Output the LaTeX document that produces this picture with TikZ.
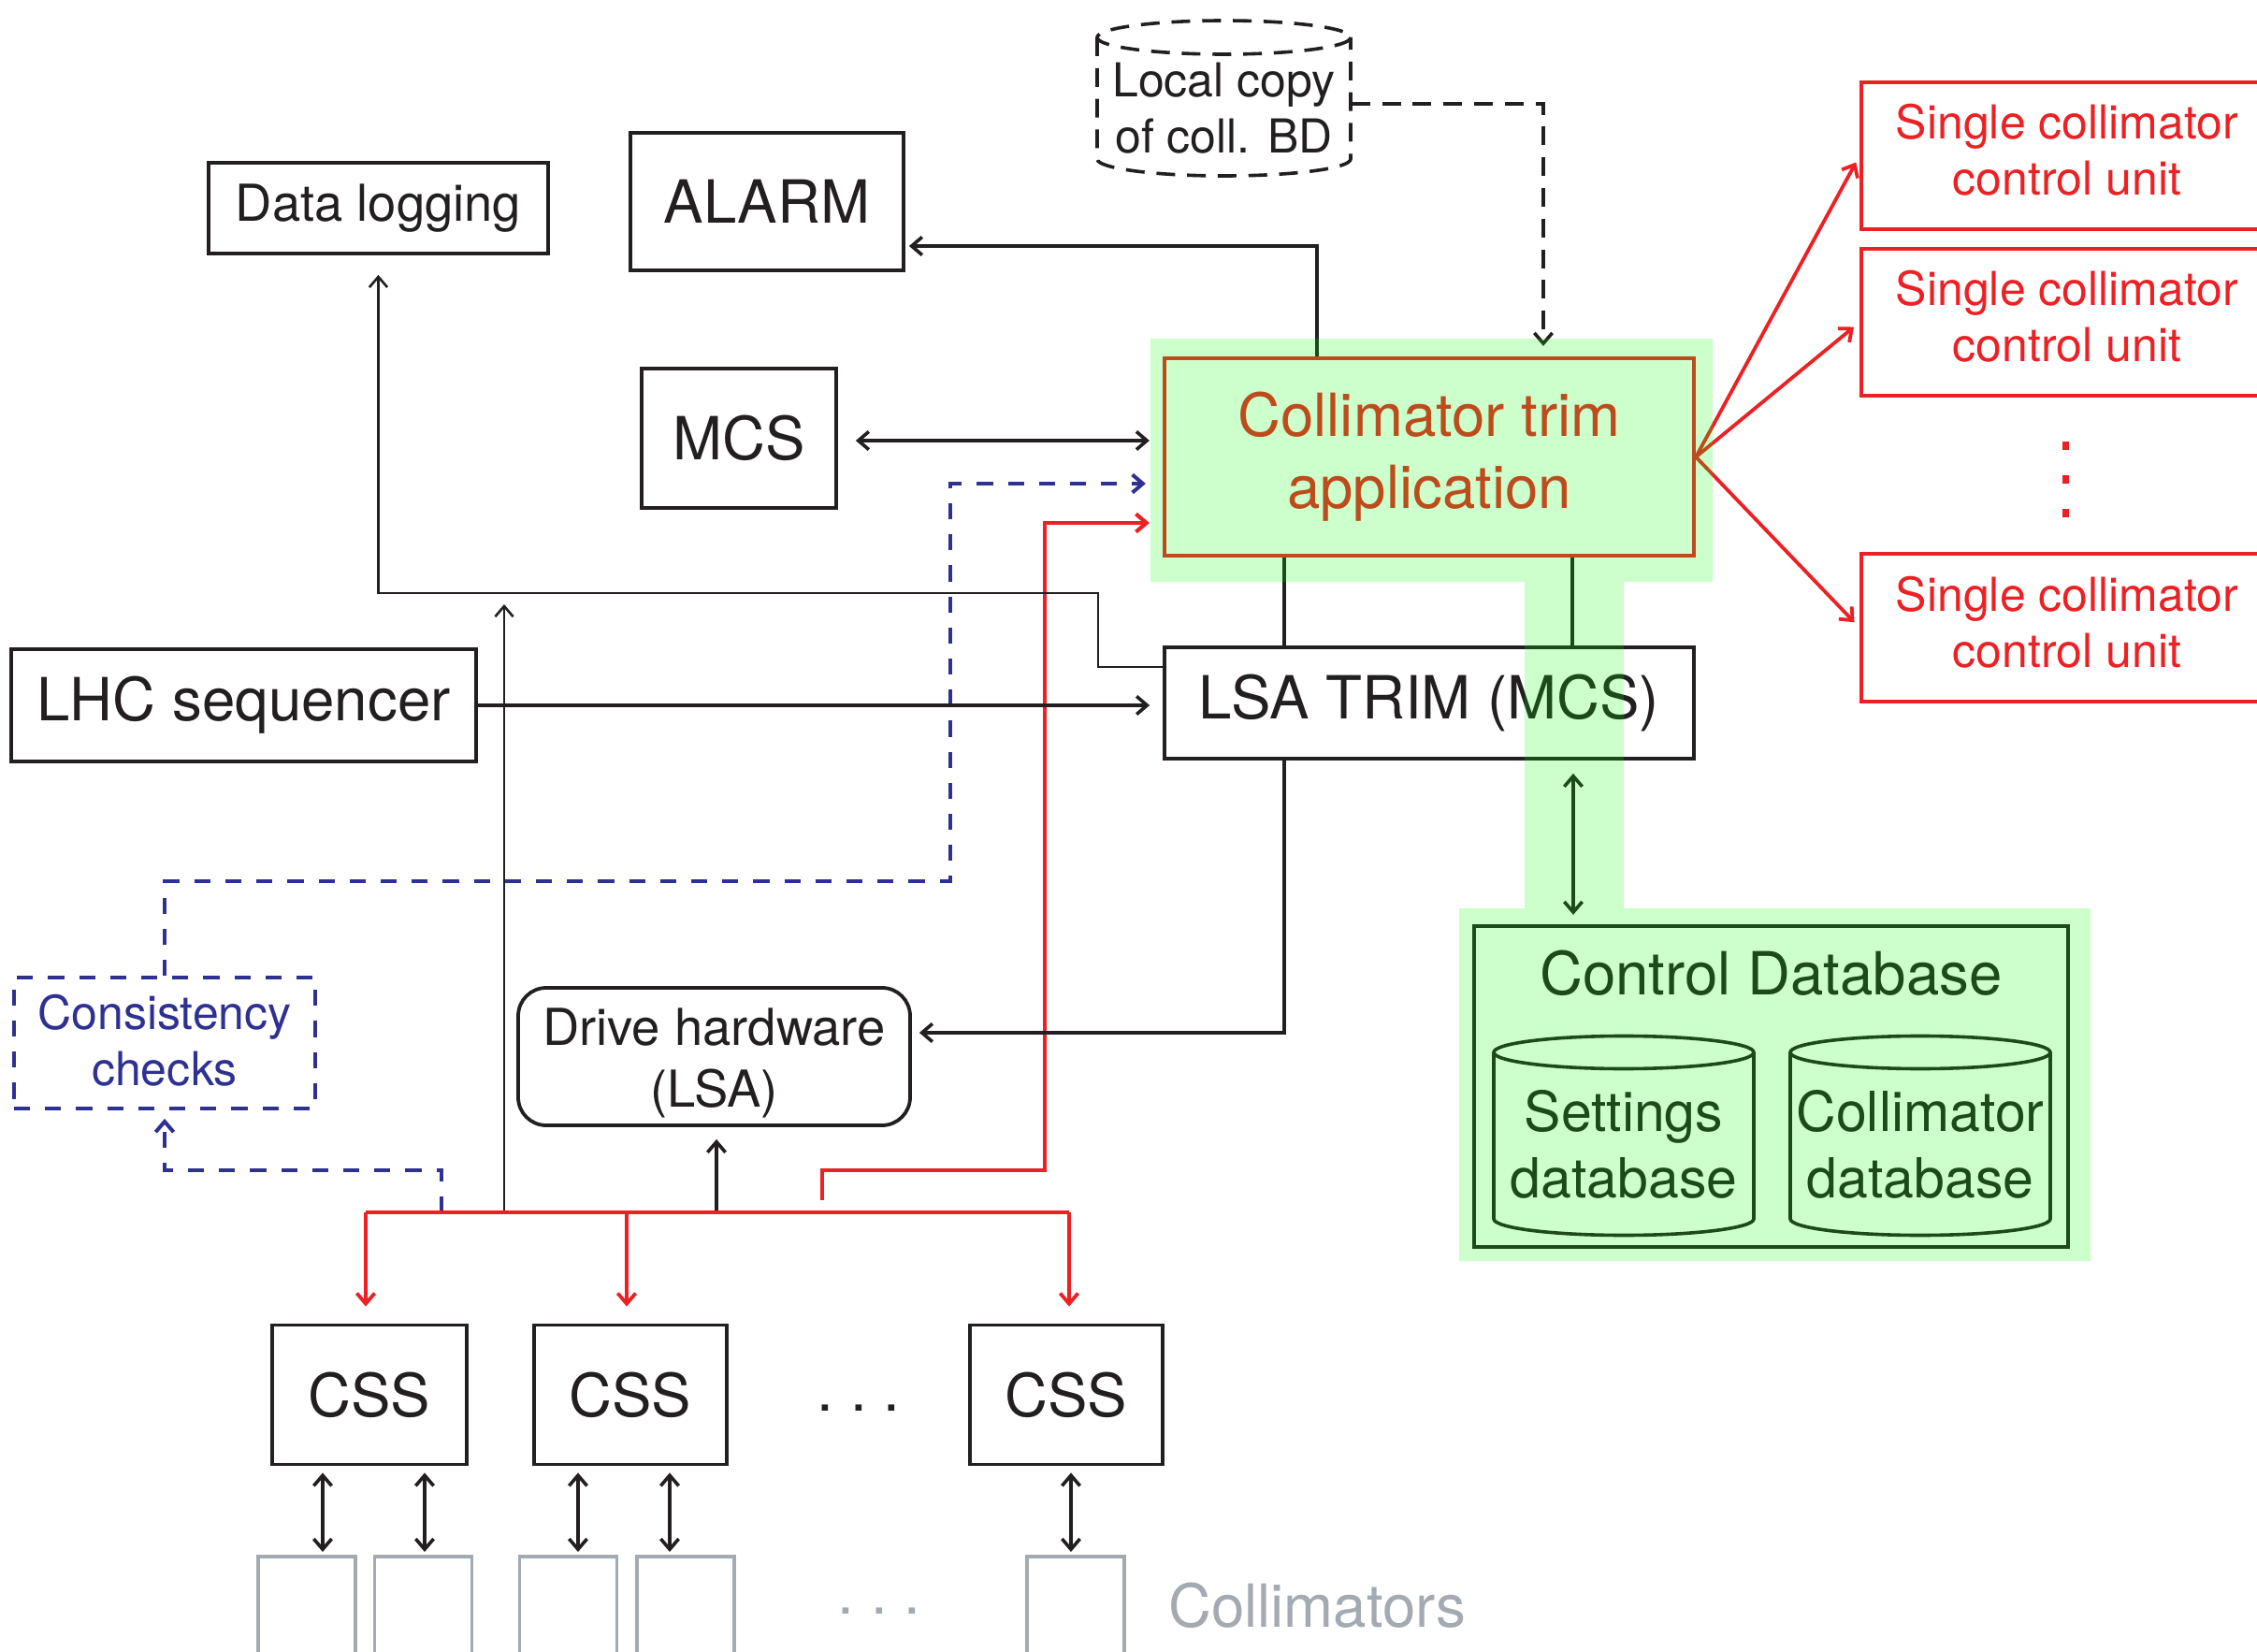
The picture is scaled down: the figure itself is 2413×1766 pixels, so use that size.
\documentclass[tikz,border=0pt]{standalone}
\usepackage{fontspec}
\setmainfont{TeX Gyre Heros}
\usetikzlibrary{arrows.meta,calc}
\definecolor{cred}{RGB}{237,32,36}
\definecolor{cblue}{RGB}{46,49,146}
\definecolor{cblack}{RGB}{35,31,32}
\definecolor{cgrey}{RGB}{163,170,177}
\definecolor{cgreen}{RGB}{0,255,0}
\newcommand\fbig{\fontsize{15.9pt}{19.25pt}\selectfont}
\newcommand\fmid{\fontsize{13.6pt}{16.5pt}\selectfont}
\newcommand\fsml{\fontsize{12.5pt}{15pt}\selectfont}
\newcommand\fdb{\fontsize{14.75pt}{17.75pt}\selectfont}
\begin{document}
\begin{tikzpicture}[x=0.25pt,y=-0.25pt,
  >={Straight Barb[length=2.8pt,width=4.8pt]},
  sz/.style 2 args={minimum width=#1*0.25pt, minimum height=#2*0.25pt},
  box/.style={draw=cblack, line width=0.95pt, inner sep=0pt, align=center, text=cblack},
  plain/.style={inner sep=0pt, align=center},
  conn/.style={draw=cblack, line width=0.9pt},
  thinconn/.style={draw=cblack, line width=0.65pt},
  redconn/.style={draw=cred, line width=0.95pt},
  bdash/.style={dash pattern=on 4.3pt off 4pt},
  ldash/.style={dash pattern=on 5pt off 3.2pt},
  vdot/.style={fill=cred, inner sep=0pt, sz={7}{9}},
  greybox/.style={draw=cgrey, line width=0.95pt, inner sep=0pt, sz={104}{150}, anchor=north}
]
\useasboundingbox (0,0) rectangle (2413,1766);
\clip (0,0) rectangle (2413,1766);
\fill[white] (0,0) rectangle (2413,1766);

% ---- nodes ----
\node[box, sz={363}{97}, font=\fmid] (datalog) at (404.5,222.5) {Data logging};
\node[box, sz={292}{147}, font=\fbig] (alarm) at (820,215.5) {ALARM};
\node[box, sz={208}{149}, font=\fbig] (mcs) at (790,468.5) {MCS};
\node[box, draw=cred, line width=1.05pt, text=cred, sz={566}{211}, font=\fbig] (trim) at (1528,488.5) {Collimator trim\\application};
\node[box, sz={566}{119}, font=\fbig] (lsatrim) at (1528,751.5) {LSA TRIM (MCS)};
\node[box, sz={497}{120}, font=\fbig] (lhcseq) at (260.5,754) {LHC sequencer};

\node[box, draw=cred, sz={440}{157}] (u1) at (2210,166.5) {};
\node[box, draw=cred, sz={440}{157}] (u2) at (2210,344.5) {};
\node[box, draw=cred, sz={440}{158}] (u3) at (2210,671) {};
\node[plain, text=cred, font=\fsml] (u1t) at (2210,160) {Single collimator\\control unit};
\node[plain, text=cred, font=\fsml] (u2t) at (2210,338) {Single collimator\\control unit};
\node[plain, text=cred, font=\fsml] (u3t) at (2210,665) {Single collimator\\control unit};
\node[vdot] (vd1) at (2208,477) {};
\node[vdot] (vd2) at (2208,513) {};
\node[vdot] (vd3) at (2208,549) {};

% local copy (dashed cylinder)
\node[plain, font=\fsml, text=cblack, sz={271}{130}] (local) at (1308.5,116) {Local copy\\of coll. BD};
\draw[conn, ldash] (1173,40) -- (1173,170) arc[start angle=180, end angle=0, x radius=135.5, y radius=18] -- (1444,40);
\draw[conn, ldash] (1308.5,40) ellipse [x radius=135.5, y radius=18];

% control database
\node[box, line width=1.05pt, sz={635}{343}] (cdb) at (1893.5,1161.5) {};
\node[plain, font=\fbig, text=cblack] (cdbt) at (1893.5,1040) {Control Database};
\node[plain, font=\fdb, text=cblack] (settings) at (1736,1223) {Settings\\database};
\node[plain, font=\fdb, text=cblack] (colldb) at (2053,1223) {Collimator\\database};
\draw[conn] (1597,1125) -- (1597,1303) arc[start angle=180, end angle=0, x radius=139, y radius=17.5] -- (1875,1125);
\draw[conn] (1736,1125) ellipse [x radius=139, y radius=17.5];
\draw[conn] (1914,1125) -- (1914,1303) arc[start angle=180, end angle=0, x radius=139, y radius=17.5] -- (2192,1125);
\draw[conn] (2053,1125) ellipse [x radius=139, y radius=17.5];

\node[box, draw=cblue, bdash, sz={322}{140}] (consist) at (176,1115) {};
\node[plain, text=cblue, font=\fsml] (consistt) at (176,1112) {Consistency\\checks};
\node[box, rounded corners=7.5pt, sz={419}{147}] (drive) at (763.5,1129.5) {};
\node[plain, text=cblack, font=\fmid] (drivet) at (763.5,1136) {Drive hardware\\(LSA)};

\node[box, sz={208}{149}, font=\fbig] (css1) at (395,1491) {CSS};
\node[box, sz={206}{149}, font=\fbig] (css2) at (674,1491) {CSS};
\node[box, sz={206}{149}, font=\fbig] (css3) at (1140,1491) {CSS};
\node[plain, font=\fbig, text=cblack] (bdots) at (918,1505) {.\ .\ .};

\node[greybox] (col1) at (328,1662) {};
\node[greybox] (col2) at (452.5,1662) {};
\node[greybox] (col3) at (607.5,1662) {};
\node[greybox] (col4) at (733,1662) {};
\node[greybox] (col5) at (1150,1662) {};
\node[plain, font=\fbig, text=cgrey] (gdots) at (940,1722) {.\ .\ .};
\node[plain, font=\fbig, text=cgrey] (colltxt) at (1408,1716) {Collimators};

% ---- connectors ----
\draw[conn,->,shorten >=1pt] (trim.north -| 1408,0) |- (alarm.east |- 0,263);
\draw[conn,ldash,->,shorten >=2.75pt] (local.east |- 0,111) -| (trim.north -| 1650,0);
\draw[conn,<->,shorten <=4.75pt,shorten >=3.5pt] (mcs.east |- 0,471) -- (trim.west |- 0,471);
\draw[conn,draw=cblue,line width=1pt,bdash,->,shorten >=4.5pt] (consist.north) |- (1016,942) |- (trim.west |- 0,517);
\coordinate (rs) at (879,1283);
\draw[redconn,line width=1.05pt,->,shorten >=3.5pt] (rs) |- (1117,1251) |- (trim.west |- 0,559);
\draw[thinconn,->,shorten >=5.25pt] (lsatrim.west |- 0,713) -| (1174,634) -| (datalog.south);
\coordinate (bv) at (539,1296);
\coordinate (dlj) at (539,634);
\draw[thinconn,->,shorten >=3pt] (bv) -- (dlj);
\draw[conn,->,shorten >=3.5pt] (lhcseq.east) -- (lhcseq.east -| lsatrim.west);
\draw[conn] (trim.south -| 1373,0) -- (lsatrim.north -| 1373,0);
\draw[conn] (trim.south -| 1681,0) -- (lsatrim.north -| 1681,0);
\draw[conn,->,shorten >=2pt] (lsatrim.south -| 1373,0) |- (drive.east |- 0,1104);
\draw[conn,<->,shorten <=3.5pt,shorten >=2.5pt] (lsatrim.south -| 1682,0) -- (cdb.north -| 1682,0);

% bus
\coordinate (busL) at (391,1296);
\coordinate (bus2) at (670,1296);
\coordinate (busR) at (1143,1296);
\coordinate (bus3) at (766,1296);
\coordinate (bus4) at (472,1296);
\draw[conn,->,shorten >=3.25pt] (bus3) -- (bus3 |- drive.south);
\draw[conn,draw=cblue,line width=1pt,bdash,->,shorten >=2.25pt] (bus4) |- (consist.south |- 0,1251) -- (consist.south);
\draw[draw=cred,line width=1.15pt] (busL) -- (busR);
\draw[redconn,->,shorten >=4.5pt] (busL) -- (busL |- css1.north);
\draw[redconn,->,shorten >=4.5pt] (bus2) -- (bus2 |- css2.north);
\draw[redconn,->,shorten >=4.5pt] (busR) -- (busR |- css3.north);

% to single collimator units
\draw[redconn,->,shorten >=2pt] (trim.east) -- (u1.west);
\draw[redconn,->,shorten >=2pt] (trim.east) -- (u2.west);
\draw[redconn,->,shorten >=2pt] (trim.east) -- (u3.west);

% CSS <-> collimators
\draw[conn,<->,shorten <=1.75pt,shorten >=0.75pt] (css1.south -| 345,0) -- (col1.north -| 345,0);
\draw[conn,<->,shorten <=1.75pt,shorten >=0.75pt] (css1.south -| 454,0) -- (col2.north -| 454,0);
\draw[conn,<->,shorten <=1.75pt,shorten >=0.75pt] (css2.south -| 618,0) -- (col3.north -| 618,0);
\draw[conn,<->,shorten <=1.75pt,shorten >=0.75pt] (css2.south -| 716,0) -- (col4.north -| 716,0);
\draw[conn,<->,shorten <=1.75pt,shorten >=0.75pt] (css3.south -| 1145,0) -- (col5.north -| 1145,0);

% green highlight overlay
\fill[cgreen, fill opacity=0.2] (1230,362) rectangle (1831,622) (1630,618) rectangle (1736,973) (1560,971) rectangle (2235,1348);
\end{tikzpicture}
\end{document}
